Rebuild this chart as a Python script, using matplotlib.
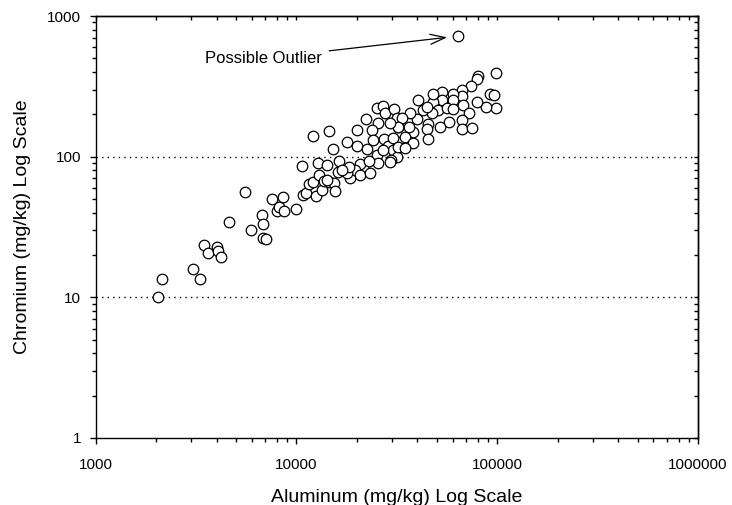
import matplotlib
matplotlib.use("Agg")
import matplotlib.pyplot as plt
from matplotlib.ticker import LogLocator, FixedLocator, NullFormatter

plt.rcParams['font.family'] = ['Liberation Sans', 'DejaVu Sans']

# Aluminum (mg/kg) and chromium (mg/kg) in soil samples
aluminum = [
    2035, 2138, 3054, 3307, 3460, 3638, 4033, 4079, 4207, 4596,
    5540, 5955, 6755, 6786, 6786, 7046, 7523, 7967, 8180, 8540,
    8697, 9977, 10690, 10740, 11190, 11500, 12120, 12500, 12750, 12890,
    13400, 13760, 14230, 14560,
    12120, 14560, 19950, 15250, 17780, 16330, 16090, 18470, 15420, 15550,
    22110, 25080, 26870, 27590, 30590, 25550, 23690, 20080, 22370, 23960,
    27380, 28660, 25080, 30350, 31550, 29550, 25370, 21510, 20720, 23040,
    19560, 20720, 23230, 17780, 31920, 31550, 32140, 18320, 16790, 14130,
    98510, 79880, 79520, 73720, 91960, 96300, 98170, 87540, 78970, 66480,
    66940, 60390, 59970, 53220, 52850, 48000, 50830, 55980, 60390, 67720,
    72550, 66480, 66480, 74820, 57680, 51840, 45020, 47120, 42810, 44500,
    39670, 36750, 33410, 44500, 38160, 36460, 32140, 29220, 30350, 34700,
    38160, 45020, 32140, 34700, 29220, 27050, 40410, 48000,
    63950,
]
chromium = [
    10.1, 13.4, 15.8, 13.5, 23.7, 20.6, 22.7, 21.4, 19.3, 34.4,
    56.4, 30.1, 38.5, 33.1, 26.6, 25.9, 49.8, 41.1, 43.7, 51.7,
    40.9, 42.3, 85.9, 53.4, 55.5, 63.7, 66.1, 52.6, 89.8, 74.1,
    58.0, 66.9, 87.3, 66.4,
    141.1, 151.6, 154.8, 113.4, 127.2, 93.7, 78.2, 70.2, 65.4, 57.0,
    184.4, 220.8, 229.3, 205.5, 218.3, 172.8, 154.8, 119.1, 112.9, 131.4,
    134.3, 119.1, 102.8, 111.6, 100.0, 94.7, 89.8, 84.9, 88.8, 93.7,
    80.5, 74.1, 76.9, 76.2, 163.4, 187.5, 127.8, 84.9, 80.5, 68.3,
    391.5, 374.6, 354.9, 318.0, 277.6, 274.4, 220.8, 226.7, 246.0, 298.0,
    269.9, 278.9, 252.9, 286.9, 252.9, 243.6, 214.8, 220.8, 217.3, 233.1,
    205.5, 182.3, 157.3, 160.7, 177.4, 161.8, 170.8, 203.5, 214.8, 226.7,
    185.3, 205.5, 189.3, 157.3, 150.6, 161.8, 161.8, 172.8, 135.1, 138.7,
    125.8, 133.0, 117.8, 114.7, 92.1, 111.6, 252.9, 278.9,
    720.0,
]
outlier_al, outlier_cr = 63950, 720.0

x_ticks = [1000, 10000, 100000, 1000000]
x_labels = ["1000", "10000", "100000", "1000000"]
y_ticks = [1, 10, 100, 1000]
y_labels = ["1", "10", "100", "1000"]
grid_levels = [10, 100]

fig = plt.figure(figsize=(7.32, 5.05), dpi=100)
ax = fig.add_axes([0.1307, 0.1327, 0.8229, 0.8356])
ax.set_xscale("log")
ax.set_yscale("log")
ax.set_xlim(1000, 1000000)
ax.set_ylim(1, 1000)

for lvl in grid_levels:
    ax.axhline(lvl, color="black", linestyle=(0, (1, 3)), linewidth=1.0, zorder=1)

ax.scatter(aluminum, chromium, s=7.6 ** 2, facecolor="white",
           edgecolor="black", linewidths=0.9, zorder=3)

ax.annotate("Possible Outlier", xy=(outlier_al, outlier_cr),
            xytext=(-140, -16), textcoords="offset points",
            ha="center", va="center", fontsize=12,
            arrowprops=dict(arrowstyle="->,head_length=0.9,head_width=0.3",
                            color="black", lw=0.9, shrinkA=3, shrinkB=8))

ax.xaxis.set_major_locator(FixedLocator(x_ticks))
ax.set_xticklabels(x_labels)
ax.yaxis.set_major_locator(FixedLocator(y_ticks))
ax.set_yticklabels(y_labels)
ax.xaxis.set_minor_locator(LogLocator(base=10, subs=range(2, 10), numticks=20))
ax.yaxis.set_minor_locator(LogLocator(base=10, subs=range(2, 10), numticks=20))
ax.xaxis.set_minor_formatter(NullFormatter())
ax.yaxis.set_minor_formatter(NullFormatter())

ax.tick_params(which="major", direction="out", length=4.5, width=1.0,
               labelsize=11, color="black")
ax.tick_params(axis="x", which="major", pad=10)
ax.tick_params(axis="y", which="major", pad=6)
ax.tick_params(which="minor", direction="out", length=3.0, width=1.0)

# inward ticks along the top and right edges
top = ax.secondary_xaxis("top")
top.xaxis.set_major_locator(FixedLocator(x_ticks))
top.xaxis.set_minor_locator(LogLocator(base=10, subs=range(2, 10), numticks=20))
top.tick_params(which="both", direction="in", length=3.0, width=1.0,
                labeltop=False)
top.xaxis.set_minor_formatter(NullFormatter())
right = ax.secondary_yaxis("right")
right.yaxis.set_major_locator(FixedLocator(y_ticks))
right.yaxis.set_minor_locator(LogLocator(base=10, subs=range(2, 10), numticks=20))
right.tick_params(which="both", direction="in", length=3.0, width=1.0,
                  labelright=False)
right.yaxis.set_minor_formatter(NullFormatter())

for sp in list(ax.spines.values()) + [top.spines["top"], right.spines["right"]]:
    sp.set_linewidth(1.0)
    sp.set_color("black")

ax.set_xlabel("Aluminum (mg/kg) Log Scale", fontsize=14)
ax.set_ylabel("Chromium (mg/kg) Log Scale", fontsize=14)
ax.xaxis.set_label_coords(0.5, -0.121)
ax.yaxis.set_label_coords(-0.108, 0.5)

fig.savefig("out.png", dpi=100)
